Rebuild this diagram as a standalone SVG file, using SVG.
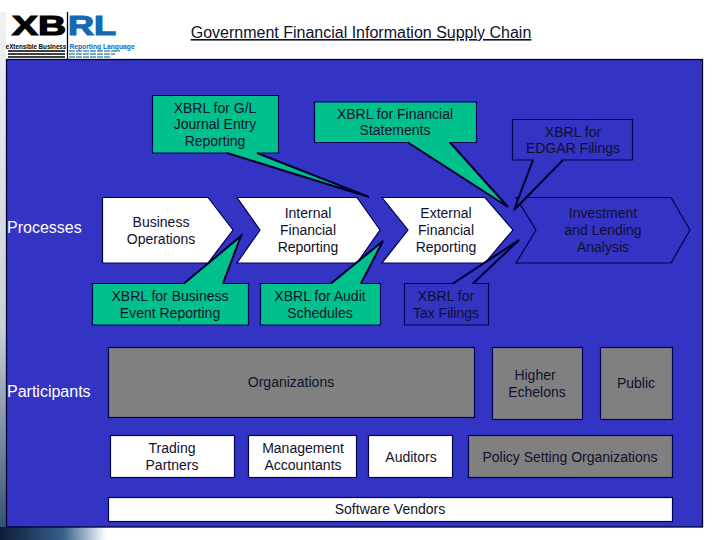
<svg xmlns="http://www.w3.org/2000/svg" width="720" height="540" viewBox="0 0 720 540">
<style>
text{font-family:"Liberation Sans",Arial,sans-serif;font-size:14px;text-anchor:middle;fill:#10102c}
.s{stroke:#000050;stroke-width:1.200}
.g{fill:#00c08c}.b{fill:#3333c4}.w{fill:#fff}.y{fill:#808080}
.l{fill:#fff;text-anchor:start;font-size:16px}
.t{fill:none;stroke:#000030;stroke-width:2}
.h{font-size:28px;font-weight:bold;stroke-width:1.200}
.m{font-size:8px;font-weight:bold}
</style>
<defs>
<linearGradient id="strip" x1="0" x2="1" y1="0" y2="0"><stop offset="0" stop-color="#0c1c38"/><stop offset=".6" stop-color="#38608c"/><stop offset="1" stop-color="#fff"/></linearGradient>
<linearGradient id="edge" x1="0" x2="0" y1="0" y2="1"><stop offset="0" stop-color="#f2f2f2"/><stop offset=".6" stop-color="#c8d0d8"/><stop offset="1" stop-color="#2c4a6c"/></linearGradient>
</defs>
<rect width="720" height="540" fill="#fff"/>
<rect x="0" y="12" width="6" height="528" fill="url(#edge)"/>
<rect x="0" y="527" width="106" height="13" fill="url(#strip)"/>
<g id="logo">
<text class="h" x="39" y="35" style="fill:#000;stroke:#000" textLength="54" lengthAdjust="spacingAndGlyphs">XB</text>
<text class="h" x="92" y="35" style="fill:#1468b4;stroke:#1468b4" textLength="48" lengthAdjust="spacingAndGlyphs">RL</text>
<text class="m" transform="translate(36 48.500) scale(.78 1)" style="fill:#000">eXtensible Business</text>
<text class="m" transform="translate(102 48.500) scale(.84 1)" style="fill:#1468b4">Reporting Language</text>
<path d="M67.500 12V59" stroke="#000" stroke-width="1.300"/>
<path d="M8 51H65M8 54H65M8 57H65" stroke="#000" stroke-width="1.500"/>
<path d="M69 51H120M69 54H115M69 57H110" stroke="#4a90b0" stroke-width="1.500" stroke-dasharray="6 1"/>
</g>
<g id="title"><text x="361" y="38" style="font-size:16px;text-decoration:underline">Government Financial Information Supply Chain</text></g>
<rect id="panel" x="6.500" y="59.500" width="696" height="467.500" class="b" stroke="#000030" stroke-width="1.300"/>
<g id="labels">
<text class="l" x="7" y="233">Processes</text>
<text class="l" x="7" y="397">Participants</text>
</g>
<g id="process-business"><path class="s w" d="M102.500 197.500H208L233 230L208 263H102.500Z"/><text x="161" y="227">Business</text><text x="161" y="244">Operations</text></g>
<g id="process-internal"><path class="s w" d="M237 197.500H357L380 230L357 263H237L260 230Z"/><text x="308" y="218">Internal</text><text x="308" y="235">Financial</text><text x="308" y="252">Reporting</text></g>
<g id="process-external"><path class="s w" d="M382 197.500H485L513 230L485 263H382L408 230Z"/><text x="446" y="218">External</text><text x="446" y="235">Financial</text><text x="446" y="252">Reporting</text></g>
<g id="process-investment"><path class="s b" d="M516 197.500H671L690 230L671 263H516L536 230Z"/><text x="603" y="218">Investment</text><text x="603" y="235">and Lending</text><text x="603" y="252">Analysis</text></g>
<g id="callout-gl"><path class="s g" d="M152.500 95.500H278.500V153H257L369 197L227 153H152.500Z"/><path class="t" d="M257 153L369 197L227 153"/><text x="215" y="113">XBRL for G/L</text><text x="215" y="129">Journal Entry</text><text x="215" y="146">Reporting</text></g>
<g id="callout-statements"><path class="s g" d="M314.500 102H476.500V142.500H450L508 207L408 142.500H314.500Z"/><path class="t" d="M450 142.500L508 207L408 142.500"/><text x="395" y="119">XBRL for Financial</text><text x="395" y="135">Statements</text></g>
<g id="callout-edgar"><path class="s b" d="M512.500 119.500H632.500V160H563L514 210L533 160H512.500Z"/><path class="t" d="M563 160L514 210L533 160"/><text x="573" y="137">XBRL for</text><text x="573" y="153">EDGAR Filings</text></g>
<g id="callout-event"><path class="s g" d="M92.500 283.500H184L241 236L223 283.500H248.500V325H92.500Z"/><path class="t" d="M184 283.500L241 236L223 283.500"/><text x="170" y="301">XBRL for Business</text><text x="170" y="318">Event Reporting</text></g>
<g id="callout-audit"><path class="s g" d="M260.500 283.500H331L383 241L361 283.500H380.500V325H260.500Z"/><path class="t" d="M331 283.500L383 241L361 283.500"/><text x="320" y="301">XBRL for Audit</text><text x="320" y="318">Schedules</text></g>
<g id="callout-tax"><path class="s b" d="M404.500 283.500H453L519 240L473 283.500H488.500V325H404.500Z"/><path class="t" d="M453 283.500L519 240L473 283.500"/><text x="446" y="301">XBRL for</text><text x="446" y="318">Tax Filings</text></g>
<g id="organizations"><rect class="s y" x="108.500" y="347.500" width="366" height="70"/><text x="291" y="387">Organizations</text></g>
<g id="higher-echelons"><rect class="s y" x="492.500" y="347.500" width="90" height="72"/><text x="535" y="380">Higher</text><text x="537" y="397">Echelons</text></g>
<g id="public"><rect class="s y" x="600.500" y="347.500" width="72" height="72"/><text x="636" y="388">Public</text></g>
<g id="trading-partners"><rect class="s w" x="110.500" y="435.500" width="124" height="42"/><text x="172" y="453">Trading</text><text x="172" y="470">Partners</text></g>
<g id="management-accountants"><rect class="s w" x="248.500" y="435.500" width="108" height="42"/><text x="303" y="453">Management</text><text x="303" y="470">Accountants</text></g>
<g id="auditors"><rect class="s w" x="368.500" y="435.500" width="84" height="42"/><text x="411" y="462">Auditors</text></g>
<g id="policy"><rect class="s y" x="468.500" y="435.500" width="204" height="42"/><text x="570" y="462">Policy Setting Organizations</text></g>
<g id="software-vendors"><rect class="s w" x="108.500" y="497.500" width="564" height="24"/><text x="390" y="514">Software Vendors</text></g>
<g id="connectors"/>
</svg>
